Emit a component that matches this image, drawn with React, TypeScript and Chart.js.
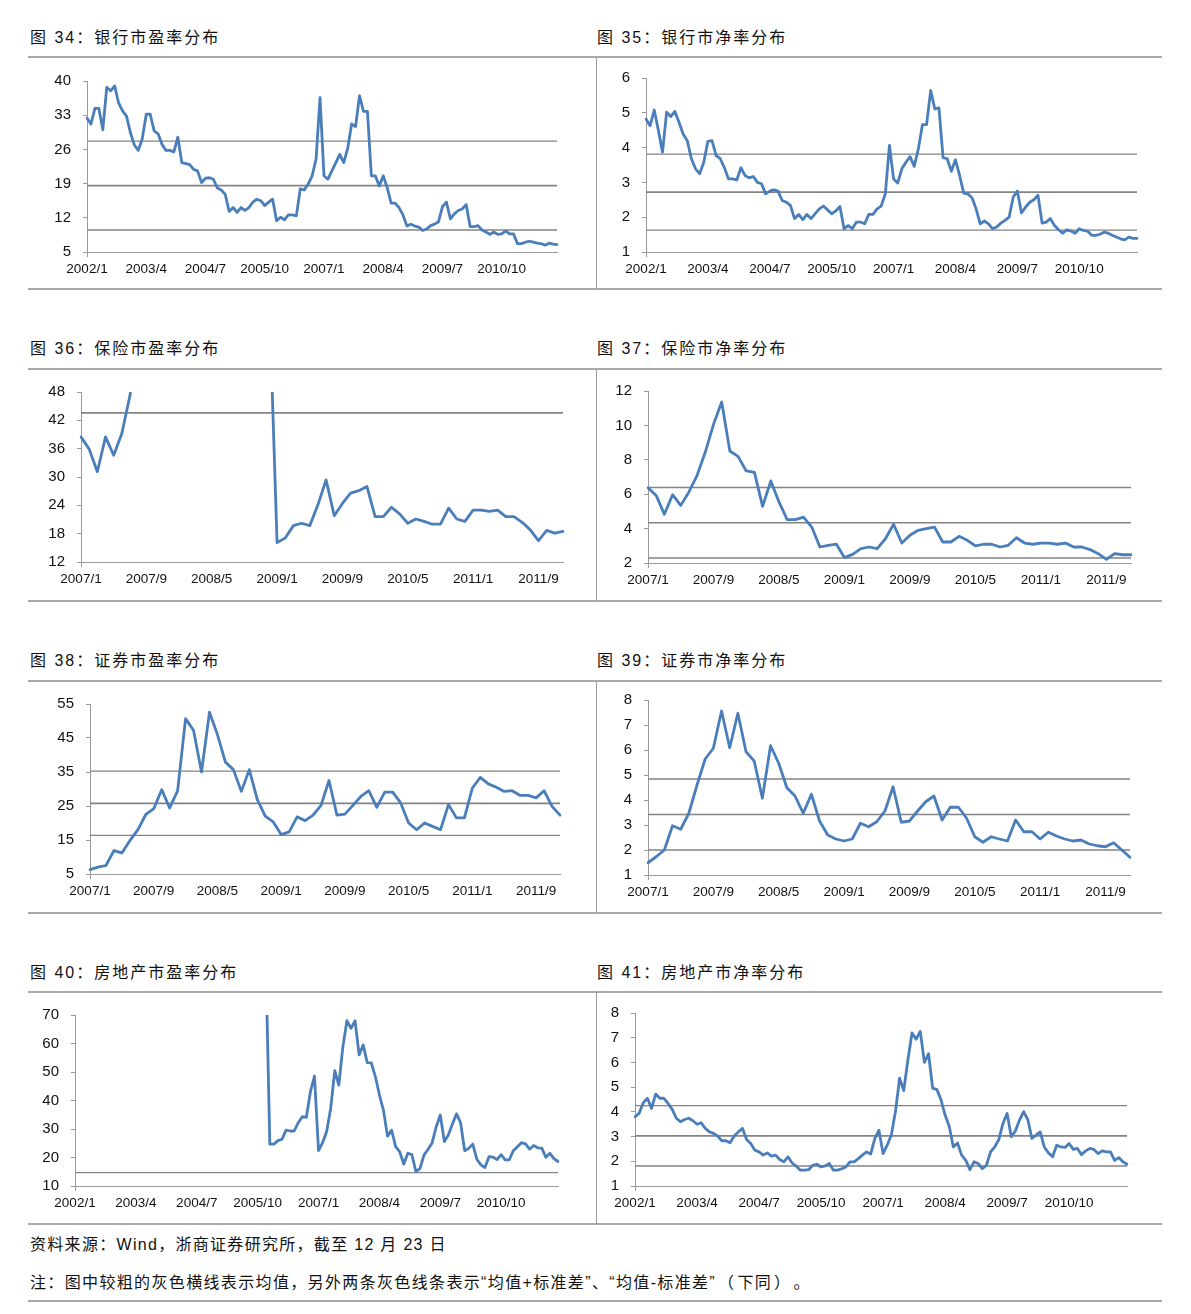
import React, { useEffect, useRef } from "react";
import { Chart, registerables } from "chart.js";

Chart.register(...registerables);

// ---------- categories ----------
function makeMonths(y0: number, m0: number, n: number): string[] {
  const out: string[] = [];
  let y = y0;
  let m = m0;
  for (let i = 0; i < n; i++) {
    out.push(`${y}/${m}`);
    m++;
    if (m > 12) {
      m = 1;
      y++;
    }
  }
  return out;
}
const months2002 = makeMonths(2002, 1, 120); // 2002/1 .. 2011/12
const months2007 = makeMonths(2007, 1, 60); // 2007/1 .. 2011/12

// ---------- series ----------
const bankPE = [
  32.4, 31.2, 34.4, 34.4, 30.0, 38.7, 38.0, 39.0, 35.5, 33.9,
  32.8, 29.4, 26.9, 25.8, 28.2, 33.2, 33.2, 29.8, 29.2, 27.0,
  25.8, 25.8, 25.5, 28.5, 23.3, 23.1, 22.9, 21.9, 21.6, 19.2,
  20.1, 20.2, 19.9, 18.1, 17.7, 16.8, 13.3, 14.1, 13.1, 14.1,
  13.5, 14.1, 15.2, 15.8, 15.5, 14.5, 15.2, 15.8, 11.4, 12.1,
  11.6, 12.6, 12.6, 12.4, 17.9, 17.7, 18.9, 20.6, 24.0, 36.6,
  20.6, 19.9, 21.6, 23.3, 25.0, 23.3, 26.2, 31.2, 30.7, 37.0,
  33.8, 33.8, 20.6, 20.6, 18.5, 20.6, 18.2, 15.0, 15.0, 14.1,
  12.6, 10.3, 10.7, 10.3, 10.1, 9.4, 9.7, 10.4, 10.7, 11.2,
  14.3, 15.2, 11.8, 12.8, 13.5, 13.8, 14.7, 10.2, 10.2, 10.4,
  9.5, 9.1, 8.6, 9.1, 8.6, 8.7, 9.3, 8.7, 8.7, 6.7,
  6.7, 7.0, 7.2, 7.0, 6.8, 6.7, 6.4, 6.8, 6.6, 6.5,
];

const bankPB = [
  4.82, 4.63, 5.08, 4.49, 3.87, 5.02, 4.89, 5.04, 4.73, 4.39,
  4.2, 3.68, 3.39, 3.25, 3.58, 4.18, 4.2, 3.77, 3.68, 3.42,
  3.1, 3.1, 3.07, 3.42, 3.2, 3.13, 3.17, 3.0, 2.96, 2.67,
  2.75, 2.79, 2.75, 2.48, 2.43, 2.34, 1.96, 2.08, 1.93, 2.08,
  1.96, 2.1, 2.24, 2.32, 2.21, 2.1, 2.18, 2.31, 1.67, 1.76,
  1.67, 1.86, 1.86, 1.81, 2.08, 2.08, 2.24, 2.32, 2.67, 4.06,
  3.1, 2.98, 3.39, 3.58, 3.74, 3.46, 3.96, 4.66, 4.66, 5.64,
  5.11, 5.14, 3.71, 3.68, 3.32, 3.65, 3.2, 2.69, 2.67, 2.56,
  2.24, 1.81, 1.89, 1.81, 1.67, 1.72, 1.83, 1.91, 2.0, 2.58,
  2.75, 2.12, 2.29, 2.43, 2.5, 2.63, 1.83, 1.86, 1.96, 1.76,
  1.64, 1.54, 1.64, 1.6, 1.54, 1.67, 1.62, 1.6, 1.48, 1.48,
  1.51, 1.57, 1.54, 1.48, 1.43, 1.38, 1.35, 1.43, 1.39, 1.39,
];

const insPE = [
  38.5, 35.9, 31.1, 38.5, 34.6, 39.2, 47.3,
  62, 80, 95, 110, 118, 105, 112, 98, 90, 95, 88, 80, 85, 92, 100, 90, 70,
  16.1, 17.1, 19.7, 20.2, 19.7, 24.1, 29.4, 21.8, 24.4, 26.6, 27.1, 28.0,
  21.6, 21.6, 23.6, 22.2, 20.2, 21.1, 20.6, 20.0, 20.0, 23.4, 21.1, 20.6,
  23.0, 23.0, 22.7, 23.0, 21.6, 21.6, 20.4, 18.8, 16.5, 18.7, 18.1, 18.5,
];

const insPB = [
  6.38, 5.93, 4.83, 5.97, 5.35, 6.13, 7.1, 8.45, 10.06, 11.36,
  8.51, 8.2, 7.35, 7.27, 5.29, 6.77, 5.55, 4.52, 4.52, 4.67,
  4.09, 2.93, 3.03, 3.1, 2.31, 2.5, 2.83, 2.93, 2.83, 3.41,
  4.25, 3.16, 3.61, 3.9, 4.0, 4.09, 3.22, 3.22, 3.55, 3.32,
  2.99, 3.09, 3.09, 2.93, 3.03, 3.47, 3.16, 3.09, 3.16, 3.16,
  3.09, 3.16, 2.93, 2.93, 2.78, 2.54, 2.21, 2.54, 2.48, 2.48,
];

const secPE = [
  6.3, 7.0, 7.5, 11.9, 11.2, 14.8, 18.0, 22.5, 24.2, 29.8,
  24.4, 29.5, 50.7, 47.2, 35.0, 52.6, 46.0, 37.9, 35.7, 29.3,
  35.7, 26.9, 22.0, 20.3, 16.6, 17.4, 21.8, 20.7, 22.3, 25.2,
  32.5, 22.3, 22.6, 25.2, 27.8, 29.5, 24.6, 29.1, 29.1, 25.9,
  20.0, 18.0, 20.0, 19.0, 18.0, 25.4, 21.5, 21.5, 30.3, 33.4,
  31.5, 30.5, 29.3, 29.5, 28.1, 28.1, 27.4, 29.5, 24.9, 22.3,
];

const secPB = [
  1.49, 1.73, 2.0, 2.97, 2.83, 3.47, 4.6, 5.64, 6.07, 7.56,
  6.09, 7.47, 5.93, 5.56, 4.07, 6.17, 5.47, 4.49, 4.16, 3.47,
  4.23, 3.16, 2.6, 2.44, 2.36, 2.44, 3.07, 2.93, 3.13, 3.56,
  4.53, 3.11, 3.16, 3.56, 3.93, 4.16, 3.2, 3.71, 3.71, 3.27,
  2.53, 2.31, 2.53, 2.44, 2.36, 3.2, 2.73, 2.73, 2.44, 2.71,
  2.56, 2.44, 2.36, 2.4, 2.24, 2.17, 2.13, 2.29, 2.0, 1.71,
];

const rePE: (number | null)[] = [
  null, null, null, null, null, null, null, null, null, null,
  null, null, null, null, null, null, null, null, null, null,
  null, null, null, null, null, null, null, null, null, null,
  null, null, null, null, null, null, null, null, null, null,
  null, null, null, null, null, null, null, 90.0, 24.7, 24.7,
  25.9, 26.4, 29.6, 29.3, 29.3, 32.2, 34.3, 34.1, 43.1, 48.6,
  22.4, 25.2, 29.1, 37.3, 50.5, 45.4, 58.9, 68.0, 65.3, 68.0,
  56.0, 59.5, 53.3, 53.2, 48.4, 42.0, 36.5, 27.5, 29.6, 23.8,
  22.0, 17.7, 21.5, 21.0, 15.0, 16.2, 20.9, 22.9, 25.2, 30.8,
  34.9, 25.6, 28.0, 31.8, 35.3, 32.2, 22.4, 23.2, 24.7, 19.4,
  17.4, 16.5, 20.3, 20.1, 19.3, 21.0, 19.2, 19.2, 22.4, 23.8,
  25.2, 24.8, 22.9, 24.2, 23.4, 23.3, 20.1, 21.5, 19.6, 18.6,
];

const rePB = [
  3.8, 3.94, 4.37, 4.55, 4.14, 4.72, 4.55, 4.55, 4.34, 4.1,
  3.74, 3.6, 3.69, 3.74, 3.64, 3.5, 3.56, 3.33, 3.19, 3.13,
  3.02, 2.83, 2.83, 2.75, 3.02, 3.19, 3.33, 2.88, 2.72, 2.45,
  2.38, 2.25, 2.34, 2.21, 2.25, 2.07, 1.98, 2.18, 1.93, 1.8,
  1.64, 1.64, 1.66, 1.84, 1.88, 1.77, 1.81, 1.91, 1.64, 1.64,
  1.7, 1.77, 1.98, 1.98, 2.11, 2.25, 2.38, 2.29, 2.92, 3.26,
  2.31, 2.65, 3.06, 4.01, 5.36, 4.86, 6.1, 7.19, 6.94, 7.25,
  6.0, 6.35, 4.95, 4.91, 4.5, 3.87, 3.42, 2.58, 2.74, 2.25,
  2.04, 1.66, 1.98, 1.91, 1.7, 1.84, 2.38, 2.58, 2.88, 3.53,
  3.94, 2.99, 3.23, 3.67, 4.01, 3.69, 2.92, 3.06, 3.19, 2.58,
  2.34, 2.18, 2.65, 2.58, 2.56, 2.72, 2.48, 2.52, 2.27, 2.42,
  2.52, 2.48, 2.31, 2.42, 2.38, 2.38, 2.04, 2.15, 1.98, 1.88,
];

// mean and standard deviation of each series (grey reference lines)
const refMeans = [18.6, 2.72, 43.6, 4.34, 25.8, 3.42, 95.0, 3.03];
const refSds = [9.1, 1.09, 33.0, 2.05, 9.45, 1.42, 80.3, 1.22];

// y axis ranges [min, max, step]
const yRanges = [
  [5, 40, 7], [1, 6, 1],
  [12, 48, 6], [2, 12, 2],
  [5, 55, 10], [1, 8, 1],
  [10, 70, 10], [1, 8, 1],
];

const titles = [
  ["图", "34", "银行市盈率分布"], ["图", "35", "银行市净率分布"],
  ["图", "36", "保险市盈率分布"], ["图", "37", "保险市净率分布"],
  ["图", "38", "证券市盈率分布"], ["图", "39", "证券市净率分布"],
  ["图", "40", "房地产市盈率分布"], ["图", "41", "房地产市净率分布"],
];

const sourceText = "资料来源：Wind，浙商证券研究所，截至 12 月 23 日";
const noteMain = "注：图中较粗的灰色横线表示均值，另外两条灰色线条表示“均值+标准差”、“均值-标准差”";
const noteTail = ["（", "下同", "）", "。"];

// ---------- layout / style ----------
const BLUE = "#4A7EBB";
const AXIS = "#9a9a9a";
const REF = "#838383";
const SEP = "#a9a9a9";
const FONT = "'Liberation Sans', Arial, 'Noto Sans CJK SC', sans-serif";

// plot-area rectangles [left, top, right, bottom]
const rects = [
  [87, 81, 557, 252], [646, 78, 1137, 252],
  [81, 392, 563, 562], [648, 391, 1131, 563],
  [90, 704, 560, 874], [648, 700, 1130, 875],
  [75, 1015, 558, 1186], [635, 1013, 1127, 1186],
];
const rowTitleCenters = [36.7, 348.3, 660, 971.5];
const rowTopLines = [56.7, 369, 681, 992];
const rowBottomLines = [289.3, 601, 912.5, 1223.5];

const PAD_L = 70;
const PAD_T = 14;
const PAD_R = 30;
const PAD_B = 34;

type Props = {
  labels: string[];
  values: (number | null)[];
  mean: number;
  sd: number;
  range: number[];
  every: number;
  rect: number[];
};

function MiniChart({ labels, values, mean, sd, range, every, rect }: Props) {
  const ref = useRef<HTMLCanvasElement | null>(null);
  const [L, T, R, B] = rect;
  const w = R - L + PAD_L + PAD_R;
  const h = B - T + PAD_T + PAD_B;

  useEffect(() => {
    const canvas = ref.current;
    if (!canvas) return;
    const lines = [
      { v: mean + sd, w: 1.3 },
      { v: mean, w: 1.7 },
      { v: mean - sd, w: 1.3 },
    ];
    const refPlugin = {
      id: "refLines",
      beforeDatasetsDraw(chart: any) {
        const { ctx, chartArea, scales } = chart;
        const y = scales.y;
        ctx.save();
        ctx.beginPath();
        ctx.rect(chartArea.left, chartArea.top - 1, chartArea.right - chartArea.left, chartArea.bottom - chartArea.top + 2);
        ctx.clip();
        ctx.strokeStyle = REF;
        for (const l of lines) {
          if (l.v < y.min || l.v > y.max) continue;
          const py = y.getPixelForValue(l.v);
          ctx.lineWidth = l.w;
          ctx.beginPath();
          ctx.moveTo(chartArea.left, py);
          ctx.lineTo(chartArea.right, py);
          ctx.stroke();
        }
        ctx.restore();
      },
    };

    const chart = new Chart(canvas, {
      type: "line",
      data: {
        labels,
        datasets: [
          {
            data: values as any,
            borderColor: BLUE,
            borderWidth: 2.8,
            pointRadius: 0,
            pointHoverRadius: 0,
            tension: 0,
            borderJoinStyle: "round",
            borderCapStyle: "round",
            spanGaps: false,
            fill: false,
          },
        ],
      },
      options: {
        responsive: false,
        maintainAspectRatio: false,
        animation: false,
        devicePixelRatio: 1,
        events: [],
        layout: { padding: { left: 0, top: PAD_T, right: PAD_R, bottom: 0 } },
        plugins: {
          legend: { display: false },
          tooltip: { enabled: false },
          title: { display: false },
        },
        scales: {
          x: {
            type: "category",
            offset: false,
            grid: {
              drawOnChartArea: false,
              drawTicks: true,
              tickLength: 5,
              lineWidth: 1,
              color: (c: any) => (c.index % every === 0 ? AXIS : "rgba(0,0,0,0)"),
            },
            border: { display: true, color: AXIS, width: 1 },
            ticks: {
              autoSkip: false,
              maxRotation: 0,
              minRotation: 0,
              padding: 4,
              color: "#111",
              font: { family: FONT, size: 13.5 },
              callback: (_v: any, i: number) => (i % every === 0 ? labels[i] : null),
            },
            afterFit: (s: any) => {
              s.height = PAD_B;
            },
          },
          y: {
            type: "linear",
            min: range[0],
            max: range[1],
            grid: {
              drawOnChartArea: false,
              drawTicks: true,
              tickLength: 4,
              color: AXIS,
              lineWidth: 1,
            },
            border: { display: true, color: AXIS, width: 1 },
            ticks: {
              stepSize: range[2],
              padding: 12,
              color: "#111",
              font: { family: FONT, size: 15 },
            },
            afterFit: (s: any) => {
              s.width = PAD_L;
            },
          },
        },
      },
      plugins: [refPlugin],
    } as any);

    // keep the plot area exactly on its rectangle if the layout added extra top room
    const extra = chart.chartArea.top - PAD_T;
    if (Math.abs(extra) > 0.25) {
      const nh = h + extra;
      canvas.style.top = `${T - PAD_T - extra}px`;
      canvas.style.height = `${nh}px`;
      chart.resize(w, nh);
    }
    return () => chart.destroy();
  }, []);

  return (
    <canvas
      ref={ref}
      width={w}
      height={h}
      style={{ position: "absolute", left: L - PAD_L, top: T - PAD_T, width: w, height: h }}
    />
  );
}

function Title({ parts, x, cy }: { parts: string[]; x: number; cy: number }) {
  return (
    <div
      style={{
        position: "absolute",
        left: x,
        top: cy - 9,
        height: 20,
        lineHeight: "20px",
        fontFamily: FONT,
        fontSize: 16,
        letterSpacing: "2px",
        color: "#111",
        whiteSpace: "nowrap",
      }}
    >
      {parts[0]} {parts[1]}：{parts[2]}
    </div>
  );
}

export default function App() {
  const series = [bankPE, bankPB, insPE, insPB, secPE, secPB, rePE, rePB];
  const cats = [months2002, months2002, months2007, months2007, months2007, months2007, months2002, months2002];
  const everies = [15, 15, 8, 8, 8, 8, 15, 15];

  const hLine = (y: number, key: string) => (
    <div
      key={key}
      style={{ position: "absolute", left: 28, width: 1134, top: y - 1, height: 2, background: SEP }}
    />
  );
  const vLine = (y1: number, y2: number, key: string) => (
    <div
      key={key}
      style={{ position: "absolute", left: 596, width: 1, top: y1, height: y2 - y1, background: "#9a9a9a" }}
    />
  );

  return (
    <div
      style={{
        position: "absolute",
        left: 0,
        top: 0,
        width: 1191,
        height: 1314,
        background: "#fff",
        overflow: "hidden",
      }}
    >
      {rowTitleCenters.map((cy, r) => (
        <React.Fragment key={"t" + r}>
          <Title parts={titles[r * 2]} x={30} cy={cy} />
          <Title parts={titles[r * 2 + 1]} x={597} cy={cy} />
        </React.Fragment>
      ))}
      {rowTopLines.map((y, r) => hLine(y, "top" + r))}
      {rowBottomLines.map((y, r) => hLine(y, "bot" + r))}
      {rowTopLines.map((y, r) => vLine(y, rowBottomLines[r], "v" + r))}
      {series.map((s, i) => (
        <MiniChart
          key={"c" + i}
          labels={cats[i]}
          values={s}
          mean={refMeans[i]}
          sd={refSds[i]}
          range={yRanges[i]}
          every={everies[i]}
          rect={rects[i]}
        />
      ))}
      <div
        style={{
          position: "absolute",
          left: 30,
          top: 1245 - 10,
          lineHeight: "20px",
          fontFamily: FONT,
          fontSize: 16,
          letterSpacing: "1.3px",
          color: "#111",
          whiteSpace: "nowrap",
        }}
      >
        {sourceText}
      </div>
      <div
        style={{
          position: "absolute",
          left: 30,
          top: 1283 - 10,
          lineHeight: "20px",
          fontFamily: FONT,
          fontSize: 16,
          letterSpacing: "1.35px",
          color: "#111",
          whiteSpace: "nowrap",
        }}
      >
        {noteMain}
        <span style={{ marginLeft: 10 }}>{noteTail[0]}</span>
        <span style={{ marginLeft: 2 }}>{noteTail[1]}</span>
        <span style={{ marginLeft: 2 }}>{noteTail[2]}</span>
        <span style={{ marginLeft: 10 }}>{noteTail[3]}</span>
      </div>
      {hLine(1301, "final")}
    </div>
  );
}
